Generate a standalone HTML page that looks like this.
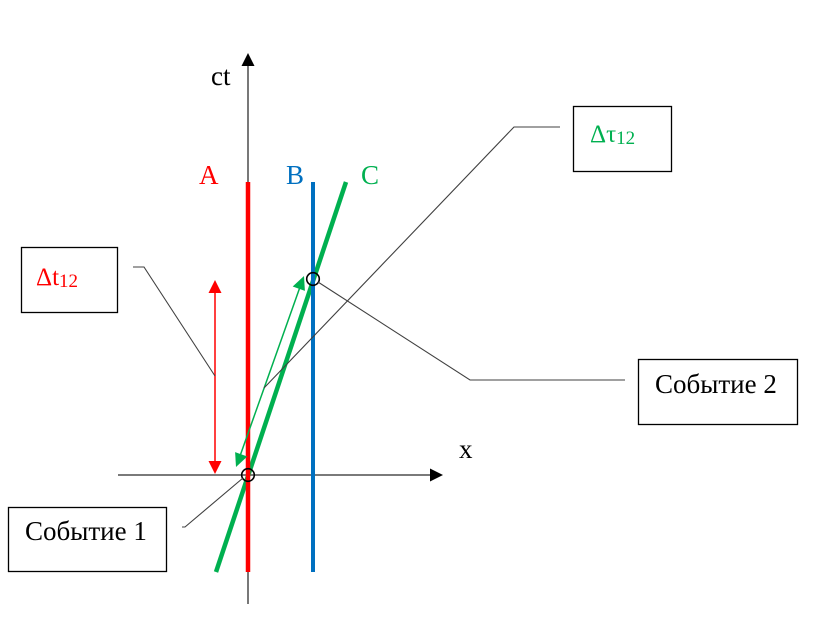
<!DOCTYPE html>
<html>
<head>
<meta charset="utf-8">
<style>
  html,body{margin:0;padding:0;background:#fff;}
  svg{display:block;}
  text{font-family:"Liberation Serif","Times New Roman",serif;}
</style>
</head>
<body>
<svg width="826" height="618" viewBox="0 0 826 618" xmlns="http://www.w3.org/2000/svg">
  <rect width="826" height="618" fill="#fff"/>

  <!-- axes -->
  <line x1="248" y1="64" x2="248" y2="604" stroke="#303030" stroke-width="1.3"/>
  <polygon points="248,53 241.5,66 254.5,66" fill="#000"/>
  <line x1="118" y1="475" x2="432" y2="475" stroke="#7a7a7a" stroke-width="2"/>
  <polygon points="443,475 430,468.5 430,481.5" fill="#000"/>

  <text x="211" y="85" font-size="27" fill="#000">ct</text>
  <text x="459" y="458" font-size="27" fill="#000">x</text>

  <!-- world lines -->
  <line x1="346" y1="182" x2="216" y2="572" stroke="#00B050" stroke-width="4.5"/>
  <line x1="248" y1="182" x2="248" y2="572" stroke="#FF0000" stroke-width="4.5"/>
  <line x1="313" y1="182" x2="313" y2="572" stroke="#0070C0" stroke-width="4"/>

  <text x="199" y="184" font-size="27" fill="#FF0000">A</text>
  <text x="286" y="184" font-size="27" fill="#0070C0">B</text>
  <text x="361" y="184" font-size="27" fill="#00B050">C</text>

  <!-- red double arrow -->
  <line x1="215" y1="291" x2="215" y2="463" stroke="#FF0000" stroke-width="1.5"/>
  <polygon points="215,280 208.5,293 221.5,293" fill="#FF0000"/>
  <polygon points="215,474 208.5,461 221.5,461" fill="#FF0000"/>

  <!-- green double arrow -->
  <line x1="300" y1="287" x2="240" y2="456" stroke="#00B050" stroke-width="1.5"/>
  <polygon points="304,276 304.9,290.9 292.7,286.5" fill="#00B050"/>
  <polygon points="236,467 235.1,452.1 247.3,456.5" fill="#00B050"/>

  <!-- event circles -->
  <circle cx="248" cy="475" r="6.3" fill="none" stroke="#000" stroke-width="1.6"/>
  <circle cx="313" cy="279" r="6.3" fill="none" stroke="#000" stroke-width="1.6"/>

  <!-- callout lines -->
  <g fill="none" stroke="#404040" stroke-width="1.1">
    <polyline points="133,267 144,267 215,376"/>
    <polyline points="182,527 185,527 243,478"/>
    <polyline points="560,127 514,127 264,388"/>
    <polyline points="625,380 470,380 318,282"/>
  </g>

  <!-- boxes -->
  <rect x="21.5" y="247.5" width="96" height="65" fill="#fff" stroke="#000" stroke-width="1.3"/>
  <text x="36" y="285" font-size="25" fill="#FF0000">Δt<tspan font-size="19" dy="2">12</tspan></text>

  <rect x="8.5" y="507.5" width="158" height="64" fill="#fff" stroke="#000" stroke-width="1.3"/>
  <text x="25" y="540" font-size="27" fill="#000">Событие 1</text>

  <rect x="573.5" y="106.5" width="98" height="65" fill="#fff" stroke="#000" stroke-width="1.3"/>
  <text x="590" y="142" font-size="25" fill="#00B050">Δτ<tspan font-size="19" dy="2">12</tspan></text>

  <rect x="638.5" y="359.5" width="159" height="65" fill="#fff" stroke="#000" stroke-width="1.3"/>
  <text x="655" y="393" font-size="27" fill="#000">Событие 2</text>
</svg>
</body>
</html>
